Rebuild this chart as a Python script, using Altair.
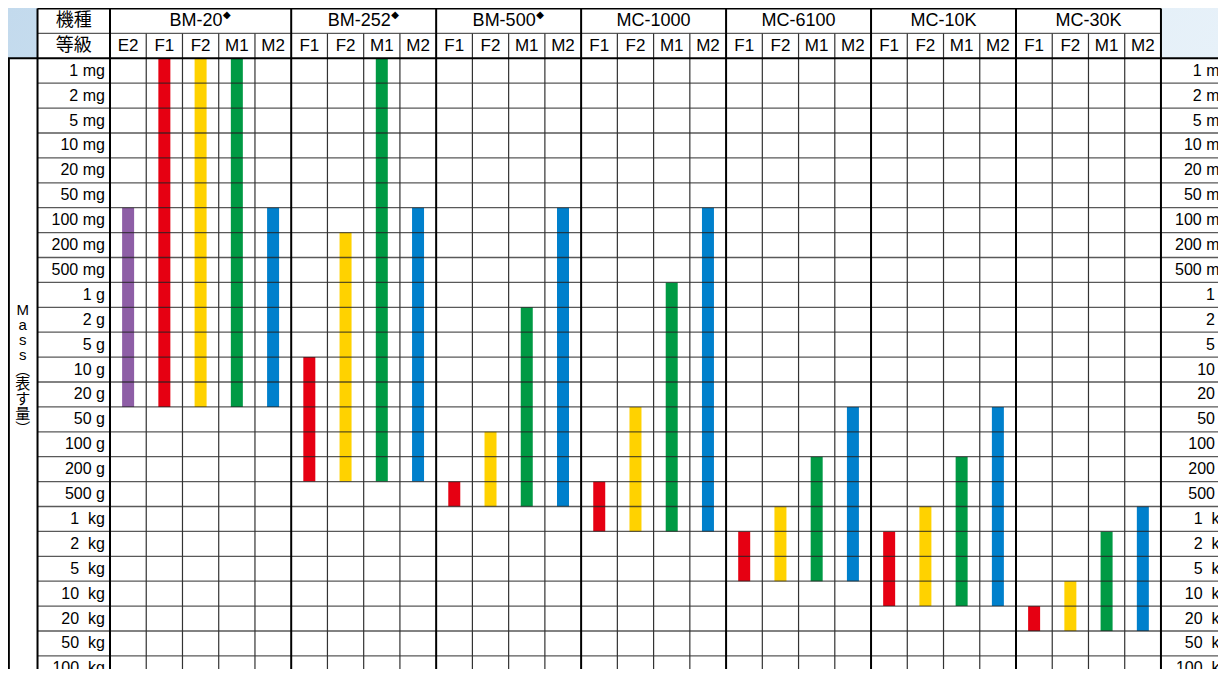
import altair as alt
import pandas as pd

# ---------------- data ----------------
masses = ["1 mg", "2 mg", "5 mg", "10 mg", "20 mg", "50 mg", "100 mg", "200 mg", "500 mg",
          "1 g", "2 g", "5 g", "10 g", "20 g", "50 g", "100 g", "200 g", "500 g",
          "1 kg", "2 kg", "5 kg", "10 kg", "20 kg", "50 kg", "100 kg"]
models = ["BM-20", "BM-252", "BM-500", "MC-1000", "MC-6100", "MC-10K", "MC-30K"]
diamond_models = ["BM-20", "BM-252", "BM-500"]
grades = {
    "BM-20": ["E2", "F1", "F2", "M1", "M2"],
    "BM-252": ["F1", "F2", "M1", "M2"],
    "BM-500": ["F1", "F2", "M1", "M2"],
    "MC-1000": ["F1", "F2", "M1", "M2"],
    "MC-6100": ["F1", "F2", "M1", "M2"],
    "MC-10K": ["F1", "F2", "M1", "M2"],
    "MC-30K": ["F1", "F2", "M1", "M2"],
}
range_from = {
    "BM-20": ["100 mg", "1 mg", "1 mg", "1 mg", "100 mg"],
    "BM-252": ["10 g", "200 mg", "1 mg", "100 mg"],
    "BM-500": ["500 g", "100 g", "2 g", "100 mg"],
    "MC-1000": ["500 g", "50 g", "1 g", "100 mg"],
    "MC-6100": ["2 kg", "1 kg", "200 g", "50 g"],
    "MC-10K": ["2 kg", "1 kg", "200 g", "50 g"],
    "MC-30K": ["20 kg", "10 kg", "2 kg", "1 kg"],
}
range_to = {
    "BM-20": ["20 g", "20 g", "20 g", "20 g", "20 g"],
    "BM-252": ["200 g", "200 g", "200 g", "200 g"],
    "BM-500": ["500 g", "500 g", "500 g", "500 g"],
    "MC-1000": ["1 kg", "1 kg", "1 kg", "1 kg"],
    "MC-6100": ["5 kg", "5 kg", "5 kg", "5 kg"],
    "MC-10K": ["10 kg", "10 kg", "10 kg", "10 kg"],
    "MC-30K": ["20 kg", "20 kg", "20 kg", "20 kg"],
}
grade_order = ["E2", "F1", "F2", "M1", "M2"]
grade_colors = ["#8e5ea6", "#e60012", "#ffd200", "#009a44", "#0080cc"]
header_model = "機種"
header_grade = "等級"
axis_title_lines = ["M", "a", "s", "s", "︵", "表", "す", "量", "︶"]

# ---------------- layout ----------------
FONT = "Liberation Sans, Arial, Noto Sans CJK JP"
W, H = 1210, 661
CW = 36.24          # px per column unit
RH = 24.9           # px per row unit
X_MIN = -102 / CW
X_MAX = X_MIN + W / CW
Y_MIN = -2 - 0.5 / RH
Y_MAX = Y_MIN + H / RH
XS = alt.Scale(domain=[X_MIN, X_MAX], nice=False, zero=False, padding=0)
YS = alt.Scale(domain=[Y_MIN, Y_MAX], nice=False, zero=False, padding=0, reverse=True)
NROW = len(masses)


def X(f):
    return alt.X(f"{f}:Q", scale=XS, axis=None)


def Y(f):
    return alt.Y(f"{f}:Q", scale=YS, axis=None)


# columns
cols = []
edges = [0]
i = 0
for m in models:
    for k, g in enumerate(grades[m]):
        cols.append(dict(model=m, grade=g, col=i, xc=i + 0.5, yy=-0.5,
                         r0=masses.index(range_from[m][k]),
                         r1=masses.index(range_to[m][k]) + 1))
        i += 1
    edges.append(i)
NCOL = i
cols_df = pd.DataFrame(cols)

# ---------------- layers ----------------
grad = alt.Gradient(
    gradient="linear",
    stops=[alt.GradientStop(color="#c3daed", offset=0),
           alt.GradientStop(color="#dfecf6", offset=0.6),
           alt.GradientStop(color="#eaf3fa", offset=1)],
    x1=0, x2=1, y1=0, y2=0.4,
)
bg = alt.Chart(pd.DataFrame([dict(x=X_MIN, x2=X_MAX, y=Y_MIN, y2=Y_MAX)])).mark_rect(
    fill=grad, clip=True).encode(x=X("x"), x2="x2", y=Y("y"), y2="y2")

white_df = pd.DataFrame([
    dict(x=-2, x2=NCOL, y=-2, y2=0),
    dict(x=X_MIN, x2=X_MAX, y=0, y2=Y_MAX + 1),
])
white = alt.Chart(white_df).mark_rect(fill="white", clip=True).encode(
    x=X("x"), x2="x2", y=Y("y"), y2="y2")

bars = alt.Chart(cols_df).mark_bar(size=12, clip=True).encode(
    x=X("xc"), y=Y("r0"), y2="r1",
    color=alt.Color("grade:N", scale=alt.Scale(domain=grade_order, range=grade_colors), legend=None),
)

# horizontal lines
h_thin = [dict(x=-2, x2=NCOL, y=-1)] + [dict(x=-2, x2=X_MAX + 1, y=r) for r in range(1, NROW + 1)]
h_thick = [dict(x=-2, x2=NCOL, y=-2), dict(x=X_MIN, x2=X_MAX + 1, y=0)]
hthin = alt.Chart(pd.DataFrame(h_thin)).mark_rule(color="#222", strokeWidth=1.3, opacity=0.75, clip=True).encode(
    x=X("x"), x2="x2", y=Y("y"))
hthick = alt.Chart(pd.DataFrame(h_thick)).mark_rule(color="#000", strokeWidth=2, clip=True).encode(
    x=X("x"), x2="x2", y=Y("y"))

# vertical lines
v_thin = [dict(x=c, y=-1, y2=Y_MAX + 1) for c in range(NCOL) if c not in edges]
v_thick = [dict(x=e, y=-2, y2=Y_MAX + 1) for e in edges] + \
          [dict(x=-2, y=-2, y2=Y_MAX + 1), dict(x=X_MIN + 0.5 / CW + 0.01, y=0, y2=Y_MAX + 1)]
vthin = alt.Chart(pd.DataFrame(v_thin)).mark_rule(color="#333", strokeWidth=1.2, clip=True).encode(
    x=X("x"), y=Y("y"), y2="y2")
vthick = alt.Chart(pd.DataFrame(v_thick)).mark_rule(color="#000", strokeWidth=2, clip=True).encode(
    x=X("x"), y=Y("y"), y2="y2")


# texts
def disp(lbl):
    return lbl.replace(" kg", "\u00a0\u00a0kg")


lab_df = pd.DataFrame([dict(label=disp(m), y=r + 0.5, xl=-0.14, xr=NCOL + 2 - 0.14)
                       for r, m in enumerate(masses)])
left_lab = alt.Chart(lab_df).mark_text(font=FONT, fontSize=16, align="right", baseline="middle",
                                       clip=True, color="#000").encode(
    x=X("xl"), y=Y("y"), text="label:N")
right_lab = alt.Chart(lab_df).mark_text(font=FONT, fontSize=16, align="right", baseline="middle",
                                        clip=True, color="#000").encode(
    x=X("xr"), y=Y("y"), text="label:N")

grade_txt = alt.Chart(cols_df).mark_text(font=FONT, fontSize=17, align="center", baseline="middle",
                                         clip=True, color="#000").encode(
    x=X("xc"), y=Y("yy"), text="grade:N")

ARIAL_W = {"B": 0.667, "M": 0.833, "C": 0.722, "K": 0.667, "-": 0.333}
MODEL_FS = 18
model_rows = []
for k, m in enumerate(models):
    c = (edges[k] + edges[k + 1]) / 2
    has_d = m in diamond_models
    name_w = sum(ARIAL_W.get(ch, 0.556) for ch in m) * MODEL_FS
    xc = c - (4.5 / CW if has_d else 0)
    model_rows.append(dict(model=m, xc=xc, y=-1.5, xd=xc + (name_w / 2 + 0.5) / CW,
                           d="◆" if has_d else ""))
model_df = pd.DataFrame(model_rows)
model_txt = alt.Chart(model_df).mark_text(font=FONT, fontSize=MODEL_FS, align="center", baseline="middle",
                                          clip=True, color="#000").encode(
    x=X("xc"), y=Y("y"), text="model:N")
diam_txt = alt.Chart(model_df).mark_text(font="DejaVu Sans", fontSize=10, align="left", baseline="middle",
                                         dy=-6, clip=True, color="#000").encode(
    x=X("xd"), y=Y("y"), text="d:N")

hdr_df = pd.DataFrame([dict(t=header_model, x=-1, y=-1.5), dict(t=header_grade, x=-1, y=-0.5)])
hdr_txt = alt.Chart(hdr_df).mark_text(font="Noto Sans CJK JP", fontSize=18, align="center",
                                      baseline="middle", clip=True, color="#000").encode(
    x=X("x"), y=Y("y"), text="t:N")

LH = 14.8
axis_df = pd.DataFrame([dict(t=axis_title_lines, x=(X_MIN + -2) / 2, y=NROW / 2)])
axis_txt = alt.Chart(axis_df).mark_text(font="Liberation Sans, Noto Sans CJK JP", fontSize=15,
                                        lineHeight=LH, align="center", baseline="middle",
                                        dy=-(len(axis_title_lines) - 1) / 2 * LH,
                                        clip=True, color="#000").encode(
    x=X("x"), y=Y("y"), text="t")

chart = alt.layer(bg, white, bars, hthin, vthin, vthick, hthick,
                  left_lab, right_lab, grade_txt, model_txt, diam_txt, hdr_txt, axis_txt).properties(
    width=W, height=H, autosize=alt.AutoSizeParams(type="none"), padding=0,
).configure_view(stroke=None)

chart.save("out.html", embed_options={"renderer": "svg", "actions": False})
